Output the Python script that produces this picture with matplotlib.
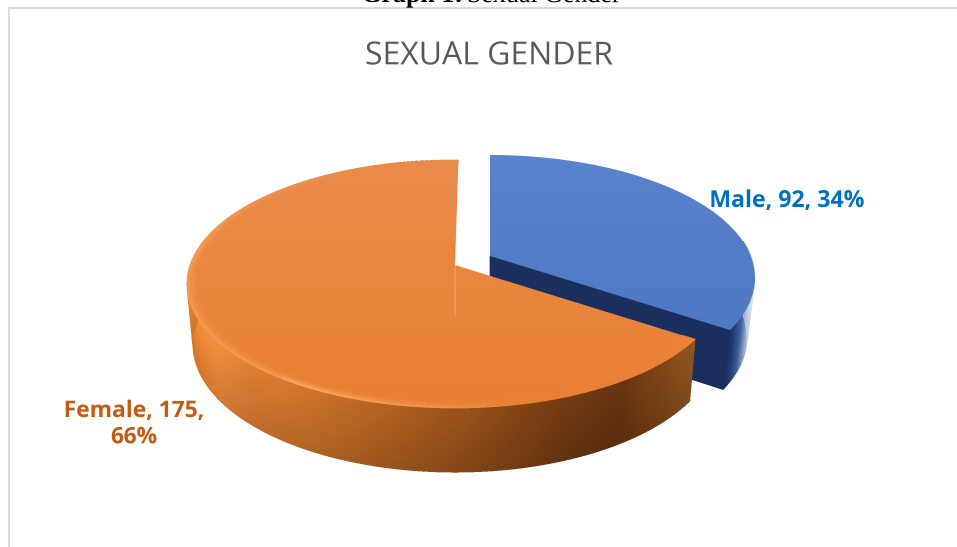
import numpy as np
import matplotlib
matplotlib.use("Agg")
import matplotlib.pyplot as plt
from matplotlib.collections import PolyCollection
from matplotlib.colors import to_rgb
from matplotlib.patches import Polygon

categories = ["Male", "Female"]
counts = [92, 175]
percents = [34, 66]
chart_title = "SEXUAL GENDER"
header_bold = "Graph 1:"
header_rest = "Sexual Gender"

W, H = 957, 547
SS = 3
fig = plt.figure(figsize=(W / 100, H / 100), dpi=100, facecolor="white")
ax = fig.add_axes([0, 0, 1, 1])
ax.set_xlim(0, W)
ax.set_ylim(H, 0)
ax.axis("off")

ax.plot([9, 9, W], [H, 8, 8], color="#DADADA", lw=1.4, solid_joinstyle="miter")


def project(theta, r, geo, depth=False):
    u, v = r * np.sin(theta), -r * np.cos(theta)
    a = geo["a"]
    den = 1 + a * v
    up = u * np.sqrt(1 - a * a) / den
    vp = (v + a) / den
    rx = geo["rxb"] if depth else geo["rx"]
    ry = geo["ryb"] if depth else geo["ry"]
    cy = geo["cy"] + (geo["d"] if depth else 0)
    return np.column_stack([geo["cx"] + rx * up, cy + ry * vp])


def mix(c1, c2, t):
    c1, c2 = np.array(to_rgb(c1)), np.array(to_rgb(c2))
    return c1 + (c2 - c1) * np.clip(t, 0, 1)


def ramp(x, stops):
    xs = [s[0] for s in stops]
    rgb = np.array([to_rgb(s[1]) for s in stops])
    return np.array([np.interp(x, xs, rgb[:, i]) for i in range(3)])


def draw_side(geo, t0, t1, stops, z, rows=14):
    th = np.linspace(t0, t1, 320)
    top, bot = project(th, 1, geo), project(th, 1, geo, True)
    quads, cols = [], []
    for r in range(rows):
        f0, f1 = r / rows, (r + 1) / rows
        shade = 1.06 - 0.16 * (f0 + f1) / 2
        a = top + (bot - top) * f0
        b = top + (bot - top) * f1
        for i in range(len(th) - 1):
            quads.append([a[i], a[i + 1], b[i + 1], b[i]])
            c = ramp((top[i][0] + top[i + 1][0]) / 2, stops) * shade
            cols.append(np.clip(c, 0, 1))
    ax.add_collection(PolyCollection(quads, facecolors=cols, edgecolors=cols, linewidths=0.5,
                                     antialiaseds=False, zorder=z))


def draw_top(geo, t0, t1, c_top, c_bot, rim_fn, z):
    th = np.linspace(t0, t1, 300)
    outline = np.vstack([[geo["cx"], geo["cy"] + geo["a"] * geo["ry"]], project(th, 1, geo)])
    clip = Polygon(outline, closed=True, transform=ax.transData, facecolor="none", edgecolor="none")
    ax.add_patch(clip)
    grad = np.linspace(0, 1, 256)[:, None, None] * (np.array(to_rgb(c_bot)) - np.array(to_rgb(c_top)))[None, None, :]
    img = ax.imshow(grad + np.array(to_rgb(c_top))[None, None, :], extent=[0, W, 420, 150],
                    aspect="auto", zorder=z, interpolation="bilinear")
    img.set_clip_path(clip)
    ax.set_xlim(0, W)
    ax.set_ylim(H, 0)
    if rim_fn is None:
        return
    radii = np.linspace(0.955, 1.0, 10)
    thr = np.linspace(t0, t1, 240)
    quads, cols = [], []
    for j in range(len(radii) - 1):
        a, b = project(thr, radii[j], geo), project(thr, radii[j + 1], geo)
        for i in range(len(thr) - 1):
            quads.append([a[i], a[i + 1], b[i + 1], b[i]])
            cols.append(rim_fn((thr[i] + thr[i + 1]) / 2, (j + 0.5) / (len(radii) - 1), a[i]))
    ax.add_collection(PolyCollection(quads, facecolors=cols, edgecolors=cols, linewidths=0.3,
                                     antialiaseds=False, zorder=z + 0.1))


shares = np.array(counts) / sum(counts)
boundary = 2 * np.pi * shares[0]

male = dict(cx=490, cy=278, rx=265, ry=123, a=-0.179, d=59, rxb=257, ryb=124)
female = dict(cx=455, cy=284, rx=268, ry=124, a=-0.153, d=60, rxb=262, ryb=128)

# male slice
draw_side(male, 0.46 * np.pi, boundary,
          [(715, "#1B2F5E"), (728, "#1B2F5E"), (734, "#22396F"), (742, "#3F5F9F"), (749, "#8FA6D2"), (755, "#DCE4F2")], 2)
apex = np.array([male["cx"], male["cy"] + male["a"] * male["ry"]])
apex_b = np.array([male["cx"], male["cy"] + male["d"] + male["a"] * male["ryb"]])
pt = project(np.array([boundary]), 1, male)[0]
pb = project(np.array([boundary]), 1, male, True)[0]
ax.add_patch(Polygon([apex, pt, pb, apex_b], closed=True, facecolor="#1B2F5E", edgecolor="#1B2F5E", lw=0.5, zorder=2.5))
draw_top(male, 0, boundary, "#5A84CE", "#4872BC", None, 3)

# female slice
draw_side(female, boundary, 2 * np.pi - 0.12,
          [(187, "#E8842F"), (215, "#E8883A"), (250, "#D47830"), (300, "#C87028"), (380, "#AC5E20"),
           (470, "#8F4C18"), (560, "#6E3912"), (620, "#623210"), (660, "#7A4215"), (692, "#8A5220")], 4)


def female_rim(t, f, p):
    base = mix("#EB8B4A", "#E97F33", (p[1] - 160) / 250)
    deg = np.degrees(t)
    strength = 0.8 * np.clip((340 - deg) / 60, 0, 1) * np.clip((deg - 165) / 40, 0, 1)
    glow = "#F6A25A" if deg > 215 else "#F8B46E"
    return tuple(mix(base, glow, strength * f ** 2))


draw_top(female, boundary, 2 * np.pi + 0.015, "#EB8C4C", "#E97E31", female_rim, 5)
ax.plot([female["cx"]] * 2, [female["cy"] + female["a"] * female["ry"], 315], color="#F4B07C", lw=0.8, alpha=0.7, zorder=6)

# texts
ax.text(489, 56, chart_title, ha="center", va="center", fontsize=23, color="#595959", family="Open Sans")
ax.text(787, 201, f"{categories[0]}, {counts[0]}, {percents[0]}%", ha="center", va="center",
        fontsize=16.6, fontweight="bold", color="#0070C0", family="Open Sans")
ax.text(134, 424, f"{categories[1]}, {counts[1]},\n{percents[1]}%", ha="center", va="center",
        fontsize=16.4, fontweight="bold", color="#C55A11", family="Open Sans", linespacing=1.2)
ax.text(463, 2, header_bold, ha="right", va="baseline", fontsize=18.7, fontweight="bold", color="black", family="Liberation Serif")
ax.text(467, 2, header_rest, ha="left", va="baseline", fontsize=18.7, color="black", family="Liberation Serif")

# render large, then average down so the rims stay smooth at the final size
fig.set_dpi(100 * SS)
fig.canvas.draw()
buf = np.asarray(fig.canvas.buffer_rgba())[..., :3].astype(float)
buf = buf[:H * SS, :W * SS]
small = buf.reshape(H, SS, W, SS, 3).mean(axis=(1, 3)) / 255
plt.imsave("out.png", small)
